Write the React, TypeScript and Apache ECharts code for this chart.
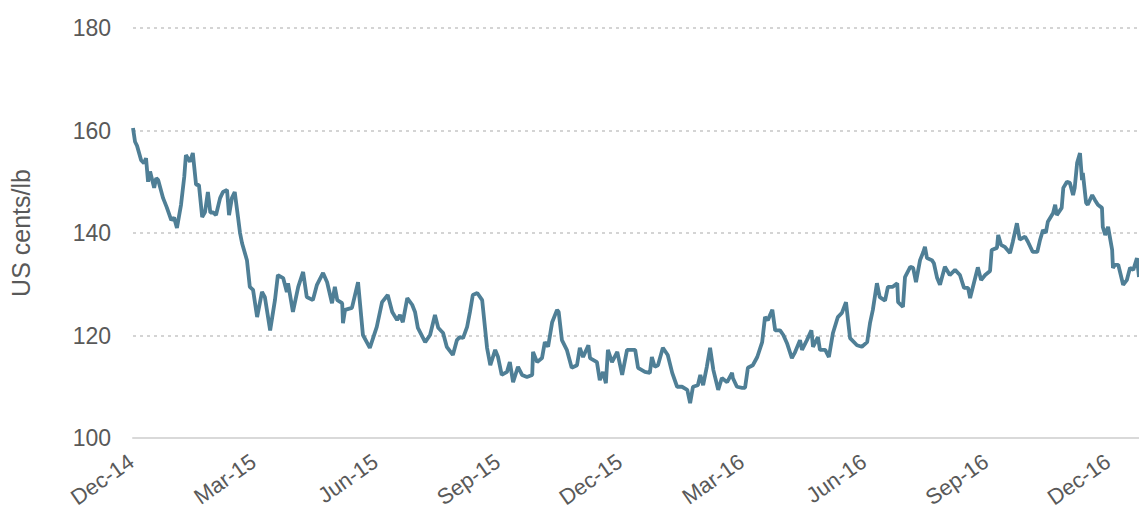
import React, { useEffect, useRef } from "react";
import * as echarts from "echarts";

// Months elapsed since 1 Dec 2014
const monthsSinceDec14 = [
  0, 0.05, 0.1, 0.2, 0.27, 0.32, 0.37, 0.42, 0.52, 0.57, 0.62, 0.74, 0.83, 0.94, 1.01, 1.08,
  1.18, 1.26, 1.3, 1.4, 1.47, 1.55, 1.62, 1.7, 1.77, 1.84, 1.9, 1.97, 2.04, 2.14, 2.21, 2.31,
  2.36, 2.43, 2.5, 2.58, 2.63, 2.68, 2.8, 2.87, 2.95, 3.05, 3.17, 3.24, 3.37, 3.49, 3.56, 3.69,
  3.78, 3.81, 3.93, 4.06, 4.18, 4.27, 4.42, 4.52, 4.67, 4.77, 4.89, 4.96, 5.02, 5.14, 5.16, 5.21,
  5.38, 5.53, 5.65, 5.82, 5.99, 6.12, 6.26, 6.37, 6.49, 6.56, 6.63, 6.74, 6.86, 6.93, 7.0, 7.18,
  7.3, 7.42, 7.5, 7.62, 7.71, 7.86, 7.96, 8.03, 8.11, 8.21, 8.28, 8.35, 8.46, 8.58, 8.7, 8.78,
  8.9, 8.97, 9.06, 9.19, 9.26, 9.34, 9.46, 9.56, 9.68, 9.81, 9.83, 9.93, 10.05, 10.12, 10.2, 10.3,
  10.42, 10.46, 10.54, 10.66, 10.78, 10.91, 10.98, 11.06, 11.19, 11.23, 11.4, 11.47, 11.55, 11.62, 11.67, 11.77,
  11.9, 12.02, 12.14, 12.34, 12.41, 12.58, 12.7, 12.75, 12.82, 12.9, 13.02, 13.14, 13.25, 13.37, 13.49, 13.62,
  13.69, 13.76, 13.88, 13.94, 14.01, 14.1, 14.18, 14.26, 14.38, 14.47, 14.6, 14.72, 14.74, 14.84, 14.97, 15.04,
  15.11, 15.23, 15.34, 15.46, 15.53, 15.6, 15.71, 15.78, 15.9, 15.98, 16.07, 16.19, 16.26, 16.39, 16.44, 16.56,
  16.67, 16.71, 16.83, 16.88, 17.01, 17.1, 17.2, 17.32, 17.42, 17.52, 17.62, 17.79, 17.91, 18.04, 18.11, 18.18,
  18.28, 18.35, 18.48, 18.55, 18.67, 18.78, 18.8, 18.92, 18.97, 19.1, 19.17, 19.24, 19.34, 19.42, 19.46, 19.51,
  19.63, 19.68, 19.76, 19.83, 19.95, 20.07, 20.2, 20.32, 20.42, 20.52, 20.57, 20.64, 20.76, 20.84, 20.94, 21.06,
  21.1, 21.23, 21.26, 21.33, 21.42, 21.55, 21.62, 21.72, 21.79, 21.92, 21.99, 22.11, 22.22, 22.29, 22.36, 22.43,
  22.48, 22.61, 22.66, 22.7, 22.82, 22.86, 22.95, 23.02, 23.1, 23.14, 23.2, 23.27, 23.32, 23.34, 23.42, 23.46,
  23.57, 23.64, 23.71, 23.81, 23.83, 23.89, 23.96, 24.06, 24.08, 24.13, 24.21, 24.26, 24.33, 24.42, 24.5, 24.58,
  24.67, 24.72,
];

// Coffee price, US cents/lb
const prices = [
  160.5, 157.8, 157, 154.2, 153.6, 154.6, 150, 152, 148.8, 150.7, 150.3, 146.8, 145, 142.5, 143, 141,
  145.5, 151, 155.2, 153.9, 155.6, 149.4, 149.4, 143.1, 144.1, 148, 144, 144, 143.5, 146.8, 148, 148.4,
  143.5, 146.8, 148, 143.1, 140, 138, 134.7, 129.5, 128.9, 123.6, 128.5, 127.5, 121, 127, 131.8, 131.2,
  128.5, 130.2, 124.6, 129.5, 132.4, 127.5, 126.9, 129.9, 132.2, 130.4, 126.3, 129.5, 126.9, 126.3, 122.4, 125,
  125.4, 130.4, 120.1, 117.6, 121.7, 126.5, 127.9, 124.6, 123, 124, 122.6, 127.3, 126, 124.6, 121.5, 118.7,
  120.1, 124, 121.5, 120.5, 117.8, 116.2, 119.1, 119.7, 119.5, 121.7, 124.6, 127.9, 128.3, 126.9, 117.6, 114.2,
  117.2, 115.8, 112.3, 112.9, 114.8, 110.9, 113.9, 112.3, 111.9, 112.3, 116.8, 114.8, 115.6, 118.7, 117.8, 122.6,
  125, 124.6, 119.1, 117.2, 113.7, 114.2, 117.6, 115.8, 118.1, 115.6, 114.8, 111.3, 112.9, 110.7, 117.2, 114.8,
  116.8, 112.3, 117.2, 117.2, 113.7, 112.9, 112.7, 115.8, 113.9, 114.2, 117.6, 116.2, 112.7, 110, 110, 109.4,
  106.8, 110, 110.3, 112.3, 110.3, 113.9, 117.6, 113.3, 109.4, 111.7, 110.9, 112.7, 111.7, 110, 109.8, 109.8,
  113.7, 114.2, 115.8, 118.7, 123.6, 123, 125, 121, 121, 120.1, 118.5, 115.6, 116.6, 119.1, 117.2, 119.1,
  121, 117.8, 119.7, 117.2, 117.2, 115.8, 120.5, 123.6, 124.4, 126.5, 119.5, 118.1, 117.8, 118.7, 122.4, 125,
  130.2, 127.5, 126.8, 129.5, 129.5, 130.2, 126.5, 125.6, 131.4, 133.4, 133.2, 130.4, 134.7, 136.3, 137.3, 135.1,
  134.7, 134.1, 131.2, 129.9, 133.4, 131.8, 132.8, 131.8, 129.3, 129.3, 127.3, 129.5, 133.3, 130.8, 131.8, 132.6,
  136.7, 137.1, 139.6, 137.7, 137.3, 136.1, 138.3, 141.9, 138.7, 139.3, 138.3, 136.3, 136.3, 138.7, 140.6, 140,
  142.2, 143.9, 145.5, 143.5, 144.9, 148.8, 150, 149.8, 147.4, 148.8, 153.7, 155.6, 150.3, 151.7, 145.9, 145.5,
  147.4, 146.4, 145.5, 144.9, 141.2, 139.6, 141.2, 136.7, 133.2, 133.8, 133.8, 132.2, 129.9, 130.8, 133.2, 132.8,
  135.1, 131.4,
];

const xTickLabels = ["Dec-14", "Mar-15", "Jun-15", "Sep-15", "Dec-15", "Mar-16", "Jun-16", "Sep-16", "Dec-16"];
const yTicks = [100, 120, 140, 160, 180];
const X_MAX = 24.72; // last trading day shown (late Dec 2016), in months since 1 Dec 2014

const FONT = '"Liberation Sans", Arial, Helvetica, sans-serif';
const TEXT = "#595959";

export default function App() {
  const ref = useRef<HTMLDivElement>(null);
  useEffect(() => {
    if (!ref.current) return;
    const chart = echarts.init(ref.current, null, { renderer: "svg" });
    chart.setOption({
      animation: false,
      grid: {
        left: 133,
        right: 0,
        top: 28,
        bottom: 73,
        containLabel: false,
        outerBoundsMode: "none",
      },
      xAxis: {
        type: "value",
        min: 0,
        max: X_MAX,
        interval: 3,
        axisLine: { show: true, lineStyle: { color: "#d9d9d9", width: 2 } },
        axisTick: { show: false },
        splitLine: { show: false },
        axisLabel: {
          rotate: 35,
          margin: 20,
          padding: [0, 2, 0, 0],
          showMaxLabel: false,
          color: TEXT,
          fontFamily: FONT,
          fontSize: 22,
          formatter: (v: number) => {
            const q = v / 3;
            if (Math.abs(q - Math.round(q)) > 0.01) return "";
            return xTickLabels[Math.round(q)] ?? "";
          },
        },
      },
      yAxis: {
        type: "value",
        min: yTicks[0],
        max: yTicks[yTicks.length - 1],
        interval: 20,
        name: "US cents/lb",
        nameLocation: "middle",
        nameGap: 100,
        nameTextStyle: { color: TEXT, fontFamily: FONT, fontSize: 25 },
        axisLine: { show: false },
        axisTick: { show: false },
        axisLabel: { color: TEXT, fontFamily: FONT, fontSize: 23, margin: 22 },
        splitLine: {
          show: true,
          lineStyle: { color: "#d4d4d4", width: 2, type: [3, 4] },
        },
      },
      series: [
        {
          type: "line",
          data: monthsSinceDec14.map((m, i) => [m, prices[i]]),
          showSymbol: false,
          symbol: "none",
          lineStyle: { color: "#4f7f96", width: 3.8 },
          itemStyle: { color: "#4f7f96" },
          clip: true,
        },
      ],
    });
    return () => chart.dispose();
  }, []);
  return (
    <div
      ref={ref}
      style={{ position: "fixed", left: 0, top: 0, width: 1139, height: 511, background: "#fff" }}
    />
  );
}
